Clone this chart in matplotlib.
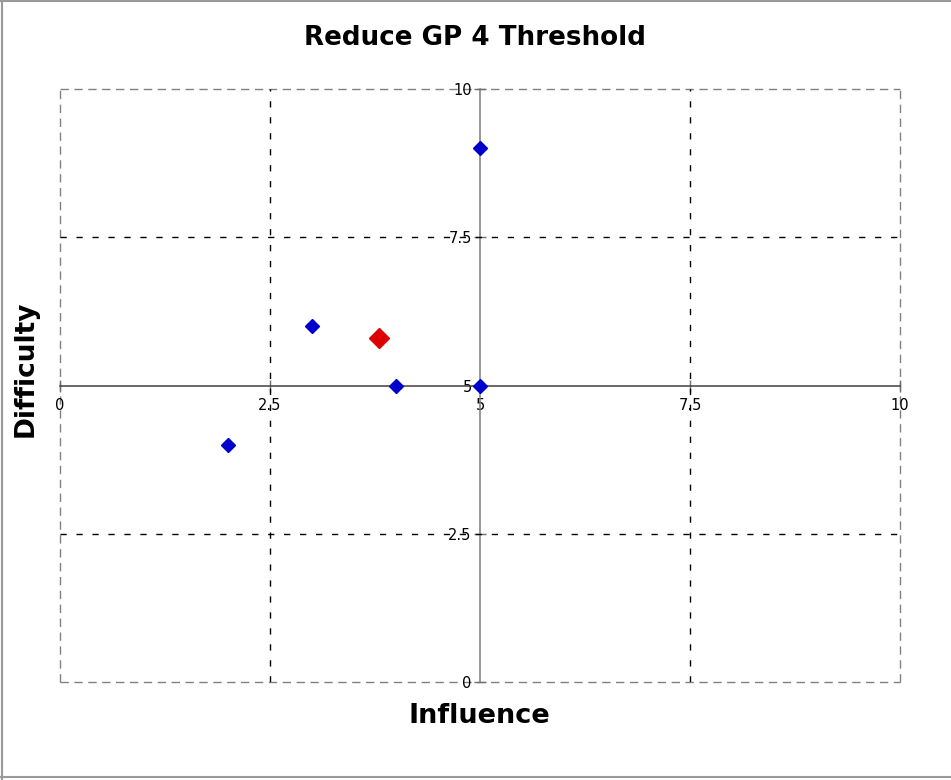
import matplotlib
matplotlib.use("Agg")
import matplotlib.pyplot as plt
from matplotlib.lines import Line2D

# influence / difficulty of each item
influence = [2, 3, 4, 5, 5]
difficulty = [4, 6, 5, 5, 9]
# overall position (mean of the items)
avg_influence = [3.8]
avg_difficulty = [5.8]

ticks = [0, 2.5, 5, 7.5, 10]
tick_labels = ["0", "2.5", "5", "7.5", "10"]
grid_at = [2.5, 7.5]

fig = plt.figure(figsize=(9.51, 7.80), dpi=100)
ax = fig.add_axes([60 / 951, 98 / 780, 840 / 951, 593 / 780])
ax.set_xlim(0, 10)
ax.set_ylim(0, 10)

# axes cross in the middle
for side in ["top", "right"]:
    ax.spines[side].set_visible(False)
ax.spines["left"].set_position(("data", 5))
ax.spines["bottom"].set_position(("data", 5))
ax.spines["left"].set_color("#7a7a7a")
ax.spines["bottom"].set_color("#404040")
ax.spines["left"].set_linewidth(1.1)
ax.spines["bottom"].set_linewidth(1.1)

# dashed grid + dashed frame
for g in grid_at:
    ax.axvline(g, color="black", lw=1.0, ls=(0, (4.5, 7)), zorder=3)
    ax.axhline(g, color="black", lw=1.0, ls=(0, (4.5, 7)), zorder=3)
for g in [0, 10]:
    ax.axvline(g, color="#808080", lw=1.0, ls=(0, (6, 4)), zorder=1, clip_on=False)
    ax.axhline(g, color="#808080", lw=1.0, ls=(0, (6, 4)), zorder=1, clip_on=False)

ax.set_xticks(ticks, tick_labels)
ax.set_yticks(ticks, tick_labels)
ax.tick_params(direction="inout", length=8, width=1, color="#707070",
               labelsize=10.5, labelcolor="black")
ax.tick_params(axis="x", pad=5)
ax.tick_params(axis="y", pad=2)

ax.plot(influence, difficulty, ls="none", marker="D", ms=7.6,
        color="#0000CC", zorder=5, clip_on=False)
ax.plot(avg_influence, avg_difficulty, ls="none", marker="D", ms=10.2,
        color="#DD0000", zorder=6)

fig.text(0.5, 1 - 38 / 780, "Reduce GP 4 Threshold", ha="center", va="center",
         fontsize=18.8, fontweight="bold")
fig.text(479 / 951, 1 - 716 / 780, "Influence", ha="center", va="center",
         fontsize=19.5, fontweight="bold")
fig.text(26 / 951, 1 - 369 / 780, "Difficulty", ha="center", va="center",
         rotation=90, fontsize=19, fontweight="bold")

# outer frame
for xs, ys in [([2 / 951, 2 / 951], [0, 1]), ([0, 1], [1 - 1 / 780, 1 - 1 / 780]),
               ([0, 1], [3 / 780, 3 / 780])]:
    fig.add_artist(Line2D(xs, ys, color="#999999", lw=1.5))

fig.savefig("out.png", dpi=100)
